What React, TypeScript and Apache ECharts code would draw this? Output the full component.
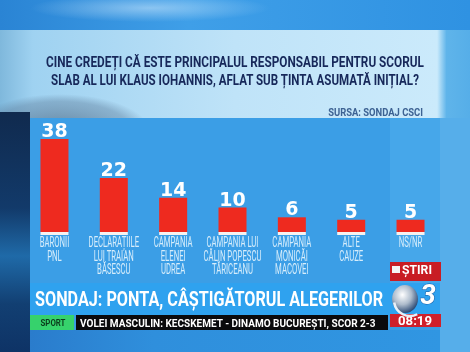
import React, { useEffect, useRef } from "react";
import * as echarts from "echarts";

const categories = [
  "BARONII\nPNL",
  "DECLARAȚIILE\nLUI TRAIAN\nBĂSESCU",
  "CAMPANIA\nELENEI\nUDREA",
  "CAMPANIA LUI\nCĂLIN POPESCU\nTĂRICEANU",
  "CAMPANIA\nMONICĂI\nMACOVEI",
  "ALTE\nCAUZE",
  "NS/NR",
];
const values = [38, 22, 14, 10, 6, 5, 5];
const titleLines = [
  "CINE CREDEȚI CĂ ESTE PRINCIPALUL RESPONSABIL PENTRU SCORUL",
  "SLAB AL LUI KLAUS IOHANNIS, AFLAT SUB ȚINTA ASUMATĂ INIȚIAL?",
];
const sourceText = "SURSA: SONDAJ CSCI";
const headline = "SONDAJ: PONTA, CÂȘTIGĂTORUL ALEGERILOR";
const tickerLabel = "SPORT";
const tickerText = "VOLEI MASCULIN: KECSKEMET - DINAMO BUCUREȘTI, SCOR 2-3";
const channelLabel = "ȘTIRI";
const channelNumber = "3";
const clock = "08:19";

let measureCtx: CanvasRenderingContext2D | null = null;
function fit(text: string, font: string, width: number): number {
  if (!measureCtx) measureCtx = document.createElement("canvas").getContext("2d");
  if (!measureCtx) return 1;
  measureCtx.font = font;
  const w = measureCtx.measureText(text).width;
  return w > 0 ? width / w : 1;
}

export default function App() {
  const ref = useRef<HTMLDivElement>(null);
  useEffect(() => {
    if (!ref.current) return;
    const chart = echarts.init(ref.current, undefined, { renderer: "svg" });

    const titleFont = "bold 15px Roboto";
    const catFont = "14px Roboto";
    const catScale = fit("CAMPANIA", catFont, 39);
    const headFont = "bold 21px Roboto";
    const tickFont = "bold 11px Roboto";
    const srcFont = "bold 10px Roboto";

    const graphic: any[] = [
      { type: "rect", z: -10, shape: { x: 0, y: 0, width: 470, height: 352 }, style: { fill: "#3a9de4" } },
      {
        type: "rect", z: -9, shape: { x: 0, y: 0, width: 470, height: 30 },
        style: { fill: new echarts.graphic.LinearGradient(0, 0, 1, 0, [
          { offset: 0, color: "#2a84d4" }, { offset: 0.4, color: "#3f9fe8" }, { offset: 1, color: "#2f92e2" }]) },
      },
      {
        type: "ellipse", z: -9, shape: { cx: 150, cy: 8, rx: 120, ry: 14 },
        style: { fill: new echarts.graphic.RadialGradient(0.5, 0.5, 0.5, [
          { offset: 0, color: "rgba(220,240,255,0.5)" }, { offset: 1, color: "rgba(220,240,255,0)" }]) },
      },
      {
        type: "rect", z: -9, shape: { x: 0, y: 30, width: 470, height: 88 },
        style: { fill: new echarts.graphic.LinearGradient(0, 0, 1, 0, [
          { offset: 0, color: "#7fb8dc" }, { offset: 0.07, color: "#9fd2f1" }, { offset: 0.5, color: "#bfe3f8" },
          { offset: 0.93, color: "#cbeafb" }, { offset: 0.95, color: "#5fb4ea" }, { offset: 1, color: "#56aee8" }]) },
      },
      {
        type: "ellipse", z: -8, shape: { cx: 60, cy: 132, rx: 90, ry: 38 },
        style: { fill: new echarts.graphic.RadialGradient(0.5, 0.5, 0.5, [
          { offset: 0, color: "rgba(70,95,120,0.7)" }, { offset: 0.8, color: "rgba(90,120,150,0.4)" },
          { offset: 1, color: "rgba(90,120,150,0)" }]) },
      },
      {
        type: "rect", z: -7, shape: { x: 30, y: 118, width: 410, height: 165 },
        style: { fill: "#3b9ee6" },
      },
      { type: "rect", z: -7, shape: { x: 390, y: 118, width: 50, height: 165 }, style: { fill: "#46a7ea" } },
      { type: "rect", z: -7, shape: { x: 440, y: 118, width: 30, height: 234 }, style: { fill: "#56aeea" } },
      {
        type: "rect", z: -7, shape: { x: 0, y: 112, width: 30, height: 240 },
        style: { fill: new echarts.graphic.LinearGradient(0, 0, 0, 1, [
          { offset: 0, color: "#102a4e" }, { offset: 0.4, color: "#123a6a" }, { offset: 0.6, color: "#1f6aa8" },
          { offset: 0.8, color: "#123f72" }, { offset: 1, color: "#0e3366" }]) },
      },
      { type: "rect", z: -7, shape: { x: 30, y: 283, width: 410, height: 32 }, style: { fill: "#2fa2ef" } },
      {
        type: "rect", z: -7, shape: { x: 30, y: 330, width: 410, height: 22 },
        style: { fill: new echarts.graphic.LinearGradient(0, 0, 1, 0, [
          { offset: 0, color: "#2a7ccc" }, { offset: 0.3, color: "#2f8fdc" }, { offset: 1, color: "#3096e2" }]) },
      },
      // title
      ...titleLines.map((t, i) => ({
        type: "text", z: 5, x: 235, y: i === 0 ? 61 : 80,
        scaleX: fit(t, titleFont, i === 0 ? 378 : 369),
        style: { text: t, font: titleFont, fill: "#17285a", align: "center", verticalAlign: "middle",
          textAlign: "center", textVerticalAlign: "middle" },
      })),
      {
        type: "text", z: 5, x: 423, y: 112, scaleX: fit(sourceText, srcFont, 95),
        style: { text: sourceText, font: srcFont, fill: "#3d6293", align: "right", verticalAlign: "middle",
          textAlign: "right", textVerticalAlign: "middle" },
      },
      // headline
      {
        type: "text", z: 5, x: 35, y: 299, scaleX: fit(headline, headFont, 348),
        style: { text: headline, font: headFont, fill: "#ffffff", align: "left", verticalAlign: "middle",
          textAlign: "left", textVerticalAlign: "middle" },
      },
      // ticker
      { type: "rect", z: 5, shape: { x: 30, y: 315, width: 44, height: 15 }, style: { fill: "#36d26c" } },
      {
        type: "text", z: 6, x: 53, y: 323, scaleX: fit(tickerLabel, "bold 9px Roboto", 25),
        style: { text: tickerLabel, font: "bold 9px Roboto", fill: "#0b3d1c", align: "center", verticalAlign: "middle",
          textAlign: "center", textVerticalAlign: "middle" },
      },
      { type: "rect", z: 5, shape: { x: 76, y: 315, width: 312, height: 15 }, style: { fill: "#0a0a0c" } },
      {
        type: "text", z: 6, x: 80, y: 323, scaleX: fit(tickerText, tickFont, 296),
        style: { text: tickerText, font: tickFont, fill: "#ffffff", align: "left", verticalAlign: "middle",
          textAlign: "left", textVerticalAlign: "middle" },
      },
      { type: "rect", z: 5, shape: { x: 390, y: 314, width: 51, height: 13 }, style: { fill: "#d0202a" } },
      {
        type: "text", z: 6, x: 415, y: 321, scaleX: fit(clock, "bold 12px Roboto", 34),
        style: { text: clock, font: "bold 12px Roboto", fill: "#ffffff", align: "center", verticalAlign: "middle",
          textAlign: "center", textVerticalAlign: "middle" },
      },
      // stiri box
      { type: "rect", z: 5, shape: { x: 390, y: 262, width: 51, height: 19 }, style: { fill: "#c81d24" } },
      { type: "rect", z: 6, shape: { x: 392, y: 266, width: 8, height: 7 }, style: { fill: "#f4f4f4" } },
      {
        type: "text", z: 6, x: 402, y: 269, scaleX: fit(channelLabel, "bold 13px Roboto", 30),
        style: { text: channelLabel, font: "bold 13px Roboto", fill: "#ffffff", align: "left", verticalAlign: "middle",
          textAlign: "left", textVerticalAlign: "middle" },
      },
      // logo
      {
        type: "ellipse", z: 5, shape: { cx: 405, cy: 299, rx: 13, ry: 14 },
        style: { fill: new echarts.graphic.RadialGradient(0.4, 0.35, 0.7, [
          { offset: 0, color: "#ffffff" }, { offset: 0.5, color: "#aebccc" }, { offset: 1, color: "#1d3d6a" }]) },
      },
      {
        type: "arc", z: 6, shape: { cx: 410, cy: 300, r: 16, startAngle: Math.PI * 0.35, endAngle: Math.PI * 0.95 },
        style: { stroke: "#e8f0f8", lineWidth: 2.5, fill: "none" },
      },
      {
        type: "text", z: 6, x: 428, y: 294,
        style: { text: channelNumber, font: "italic bold 28px Roboto", fill: "#ffffff", stroke: "#1a5aa0", lineWidth: 1,
          align: "center", verticalAlign: "middle", textAlign: "center", textVerticalAlign: "middle" },
      },
    ];

    chart.setOption({
      animation: false,
      grid: { left: 24.8, right: 29.8, top: 134, bottom: 120 },
      xAxis: {
        type: "category", data: categories,
        axisLine: { show: false }, axisTick: { show: false }, axisLabel: { show: false },
      },
      yAxis: { type: "value", min: 0, max: 40, show: false, splitLine: { show: false } },
      graphic,
      series: [
        {
          type: "bar", data: values, barWidth: 28, z: 3,
          itemStyle: { color: "#ee2a1f" },
          label: {
            show: true, position: "top", distance: 1, color: "#ffffff",
            fontFamily: "DejaVu Sans", fontWeight: "bold", fontSize: 19, lineHeight: 16,
          },
        },
        {
          type: "custom", z: 4,
          data: values.map((v, i) => [i, v]),
          renderItem: (params: any, api: any) => {
            const i = api.value(0);
            const base = api.coord([i, 0]);
            return {
              type: "group",
              children: [
                { type: "rect", shape: { x: base[0] - 14, y: base[1], width: 28, height: 3 }, style: { fill: "#f6f2f0" } },
                {
                  type: "text", x: base[0], y: base[1] + 4, scaleX: catScale,
                  style: {
                    text: categories[i], font: catFont, fill: "#d6edfb", align: "center", verticalAlign: "top",
                    lineHeight: 13.5,
                  },
                },
              ],
            };
          },
        },
      ],
    });
    return () => chart.dispose();
  }, []);
  return <div ref={ref} style={{ position: "fixed", left: 0, top: 0, width: 470, height: 352 }} />;
}
